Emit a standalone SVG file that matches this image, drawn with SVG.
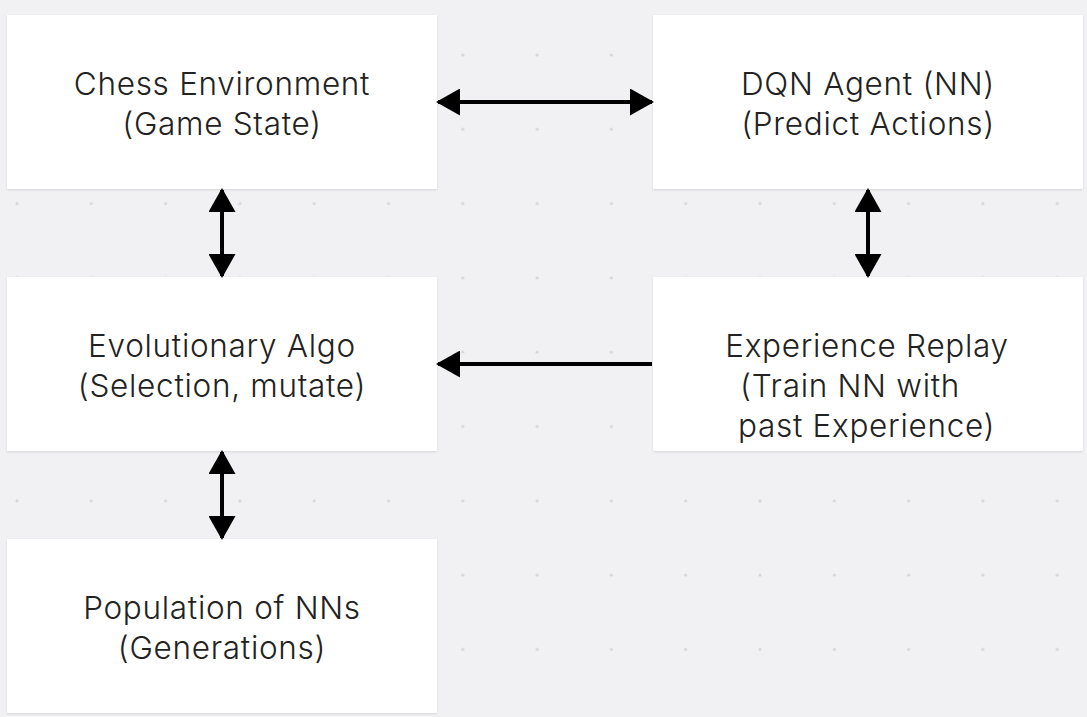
<svg xmlns="http://www.w3.org/2000/svg" width="1087" height="717" viewBox="0 0 1087 717">
<defs>
<pattern id="dots" x="0" y="0" width="74.3" height="74.3" patternUnits="userSpaceOnUse" patternTransform="translate(17,55)">
<circle cx="0" cy="0" r="1.6" fill="#d4d4da"/><circle cx="74.3" cy="0" r="1.6" fill="#d4d4da"/><circle cx="0" cy="74.3" r="1.6" fill="#d4d4da"/><circle cx="74.3" cy="74.3" r="1.6" fill="#d4d4da"/>
</pattern>
<filter id="sh" x="-5%" y="-5%" width="110%" height="115%"><feDropShadow dx="0" dy="1" stdDeviation="1" flood-color="#000" flood-opacity="0.12"/></filter>
<marker id="ah" viewBox="0 0 24 27" refX="22" refY="13.5" markerWidth="24" markerHeight="27" markerUnits="userSpaceOnUse" orient="auto-start-reverse"><path d="M0,0 L24,13.5 L0,27 Z" fill="#000"/></marker>
</defs>
<style>
.box{fill:#fff;filter:url(#sh)}
.t{font-family:Inter,"Noto Sans",sans-serif;font-size:31.5px;font-weight:300;letter-spacing:0.7px;fill:#222;text-anchor:middle}
.c{stroke:#000;stroke-width:4;fill:none}
</style>
<rect width="1087" height="717" fill="#f1f1f4"/>
<rect width="1087" height="717" fill="url(#dots)"/>
<g id="chess"><rect class="box" x="7" y="15" width="430" height="174"/><text class="t" x="222" y="95">Chess Environment</text><text class="t" x="222" y="135">(Game State)</text></g>
<g id="dqn"><rect class="box" x="653" y="15" width="430" height="174"/><text class="t" x="868" y="95">DQN Agent (NN)</text><text class="t" x="868" y="135">(Predict Actions)</text></g>
<g id="evo"><rect class="box" x="7" y="277" width="430" height="174"/><text class="t" x="222" y="357">Evolutionary Algo</text><text class="t" x="222" y="397">(Selection, mutate)</text></g>
<g id="exp"><rect class="box" x="653" y="277" width="430" height="174"/><text class="t" x="867" y="357">Experience Replay</text><text class="t" x="740" y="397" style="text-anchor:start">(Train NN with</text><text class="t" x="738" y="437" style="text-anchor:start">past Experience)</text></g>
<g id="pop"><rect class="box" x="7" y="539" width="430" height="174"/><text class="t" x="222" y="619">Population of NNs</text><text class="t" x="222" y="659">(Generations)</text></g>
<g id="connectors">
<line class="c" x1="438" y1="102" x2="652" y2="102" marker-start="url(#ah)" marker-end="url(#ah)"/>
<line class="c" x1="222" y1="190" x2="222" y2="276" marker-start="url(#ah)" marker-end="url(#ah)"/>
<line class="c" x1="868" y1="190" x2="868" y2="276" marker-start="url(#ah)" marker-end="url(#ah)"/>
<line class="c" x1="652" y1="364" x2="438" y2="364" marker-end="url(#ah)"/>
<line class="c" x1="222" y1="452" x2="222" y2="538" marker-start="url(#ah)" marker-end="url(#ah)"/>
</g>
</svg>
